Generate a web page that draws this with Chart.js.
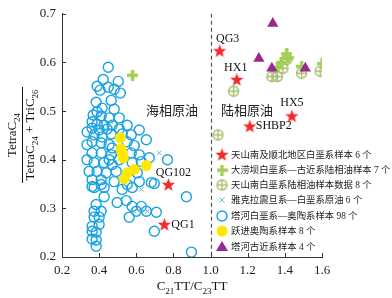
<!DOCTYPE html>
<html><head><meta charset="utf-8">
<script src="https://cdn.jsdelivr.net/npm/chart.js@4"></script>
<style>html,body{margin:0;padding:0;background:#fff}canvas{display:block}</style>
</head><body>
<canvas id="c" width="392" height="298"></canvas>
<script>
// ---- data ----
const xTicks = [0.2, 0.4, 0.6, 0.8, 1.0, 1.2, 1.4, 1.6];
const yTicks = [0.2, 0.3, 0.4, 0.5, 0.6, 0.7];
const boundaryX = 1.0;

const starNames = ['QG3', 'HX1', 'HX5', 'SHBP2', 'QG102', 'QG1'];
const starX = [1.049, 1.141, 1.438, 1.211, 0.773, 0.751];
const starY = [0.624, 0.565, 0.490, 0.469, 0.349, 0.267];

const plusX = [0.58, 1.41, 1.38, 1.49, 1.60, 1.42, 1.36];
const plusY = [0.574, 0.618, 0.600, 0.592, 0.598, 0.610, 0.590];

const oplusX = [1.39, 1.33, 1.36, 1.49, 1.59, 1.124, 1.04, 1.41];
const oplusY = [0.588, 0.571, 0.571, 0.578, 0.582, 0.541, 0.451, 0.606];

const crossX = [0.724, 0.627, 0.627, 0.659, 0.465, 0.589];
const crossY = [0.414, 0.339, 0.294, 0.294, 0.478, 0.294];

const blueX = [0.449,0.422,0.503,0.389,0.449,0.405,0.481,0.514,0.384,0.465,
  0.416,0.481,0.389,0.368,0.411,0.454,0.508,0.362,0.389,0.427,
  0.470,0.362,0.400,0.443,0.373,0.416,0.465,0.524,0.573,0.616,
  0.362,0.411,0.454,0.551,0.589,0.470,0.362,0.411,0.465,0.573,
  0.616,0.670,0.373,0.427,0.470,0.578,0.346,0.389,0.438,0.492,
  0.605,0.362,0.411,0.481,0.616,0.681,0.373,0.427,0.524,0.578,
  0.697,0.427,0.384,0.497,0.578,0.627,0.373,0.411,0.600,0.562,
  0.708,0.768,0.870,0.697,0.897,0.373,0.400,0.362,0.400,0.362,
  0.384,0.362,0.384,0.384,0.411,0.362,0.546,0.627,0.335,0.335,
  0.454,0.508,0.551,0.654,0.335,0.508,0.654,0.551];
const blueY = [0.590,0.565,0.561,0.551,0.549,0.543,0.545,0.537,0.518,0.522,
  0.506,0.504,0.498,0.492,0.490,0.486,0.486,0.478,0.473,0.471,
  0.471,0.465,0.461,0.463,0.451,0.447,0.453,0.453,0.451,0.461,
  0.437,0.435,0.431,0.437,0.429,0.424,0.414,0.414,0.410,0.414,
  0.410,0.404,0.394,0.394,0.390,0.394,0.376,0.376,0.373,0.376,
  0.373,0.359,0.359,0.355,0.355,0.353,0.343,0.343,0.339,0.343,
  0.351,0.324,0.308,0.312,0.304,0.304,0.294,0.294,0.294,0.282,
  0.292,0.400,0.324,0.253,0.210,0.282,0.282,0.263,0.267,0.253,
  0.251,0.237,0.235,0.222,0.349,0.345,0.316,0.396,0.431,0.400,
  0.400,0.400,0.471,0.294,0.457,0.463,0.441,0.349];

const yellowX = [0.514, 0.519, 0.524, 0.530, 0.654, 0.589, 0.551, 0.535];
const yellowY = [0.445, 0.422, 0.414, 0.404, 0.388, 0.380, 0.373, 0.361];

const triX = [1.335, 1.26, 1.33, 1.51];
const triY = [0.680, 0.608, 0.588, 0.588];

const legendLabels = [
  '天山南及顺北地区白垩系样本 6 个',
  '大涝坝白垩系—古近系陆相油样本 7 个',
  '天山南白垩系陆相油样本数据 8 个',
  '雅克拉震旦系—白垩系原油 6 个',
  '塔河白垩系—奥陶系样本 98 个',
  '跃进奥陶系样本 8 个',
  '塔河古近系样本 4 个'
];
const regionLabels = ['海相原油', '陆相原油'];

// ---- symbols ----
const RED = '#f22a2a', BLUE = '#17a2e2', YEL = '#ffe800', PURP = '#9b2790',
      LGREEN = '#a2cf55', OGREEN = '#a3ba6a', XCOL = '#73b3d3';
function mk(w, h, f) { const c = document.createElement('canvas'); c.width = w; c.height = h; f(c.getContext('2d'), w, h); return c; }
function starPath(ctx, cx, cy, R, r) {
  ctx.beginPath();
  for (let i = 0; i < 10; i++) {
    const a = -Math.PI / 2 + i * Math.PI / 5, rr = i % 2 ? r : R;
    ctx.lineTo(cx + rr * Math.cos(a), cy + rr * Math.sin(a));
  }
  ctx.closePath();
}
const starImg = mk(15, 15, (ctx) => { starPath(ctx, 7.5, 8, 7, 2.9); ctx.fillStyle = RED; ctx.fill(); });
const plusImg = mk(11, 11, (ctx) => { ctx.fillStyle = LGREEN; ctx.fillRect(0, 4, 11, 3.4); ctx.fillRect(3.8, 0, 3.4, 11); });
const oplusImg = mk(13, 13, (ctx) => {
  ctx.strokeStyle = OGREEN; ctx.lineWidth = 1.3;
  ctx.beginPath(); ctx.arc(6.5, 6.5, 5, 0, Math.PI * 2); ctx.stroke();
  ctx.beginPath(); ctx.moveTo(1.5, 6.5); ctx.lineTo(11.5, 6.5); ctx.moveTo(6.5, 1.5); ctx.lineTo(6.5, 11.5); ctx.stroke();
});

const pts = (xs, ys) => xs.map((x, i) => ({ x, y: ys[i] }));

const SERIF = '"Liberation Serif", "Times New Roman", serif';
const MIX = '"Liberation Serif", "Noto Sans CJK SC", serif';

function drawRich(ctx, parts, x, y, size, align) {
  const subSize = Math.round(size * 0.68);
  let w = 0;
  parts.forEach(([t, s]) => { ctx.font = (s ? subSize : size) + 'px ' + SERIF; w += ctx.measureText(t).width; });
  let cx = align === 'center' ? x - w / 2 : x;
  ctx.textAlign = 'left'; ctx.textBaseline = 'alphabetic';
  parts.forEach(([t, s]) => {
    ctx.font = (s ? subSize : size) + 'px ' + SERIF;
    ctx.fillText(t, cx, s ? y + size * 0.28 : y);
    cx += ctx.measureText(t).width;
  });
  return w;
}

const overlay = {
  id: 'overlay',
  beforeDatasetsDraw(chart) {
    const { ctx, chartArea: a, scales: { x, y } } = chart;
    ctx.save();
    ctx.strokeStyle = '#555'; ctx.lineWidth = 1.2; ctx.setLineDash([4, 3]);
    const bx = Math.round(x.getPixelForValue(boundaryX)) + 0.5;
    ctx.beginPath(); ctx.moveTo(bx, a.top); ctx.lineTo(bx, a.bottom); ctx.stroke();
    ctx.setLineDash([]);
    ctx.strokeStyle = '#333'; ctx.lineWidth = 1;
    xTicks.forEach(v => { const p = Math.round(x.getPixelForValue(v)) + 0.5; ctx.beginPath(); ctx.moveTo(p, a.bottom); ctx.lineTo(p, a.bottom - 4); ctx.stroke(); });
    yTicks.forEach(v => { const p = Math.round(y.getPixelForValue(v)) + 0.5; ctx.beginPath(); ctx.moveTo(a.left, p); ctx.lineTo(a.left + 4, p); ctx.stroke(); });
    ctx.fillStyle = '#222'; ctx.font = '13px "Noto Sans CJK SC", sans-serif';
    ctx.textAlign = 'center'; ctx.textBaseline = 'middle';
    ctx.fillText(regionLabels[0], 172, 110);
    ctx.fillText(regionLabels[1], 247, 110);
    ctx.restore();
  },
  afterDatasetsDraw(chart) {
    const { ctx, scales: { x, y } } = chart;
    ctx.save();
    ctx.fillStyle = '#111'; ctx.font = '12px ' + SERIF; ctx.textBaseline = 'middle';
    const offs = [[8, -12, 'center'], [-1, -12, 'center'], [0, -13, 'center'], [6, 0, 'left'], [5, -12, 'center'], [7, 0, 'left']];
    starNames.forEach((n, i) => {
      const px = x.getPixelForValue(starX[i]), py = y.getPixelForValue(starY[i]);
      ctx.textAlign = offs[i][2];
      ctx.fillText(n, px + offs[i][0], py + offs[i][1]);
    });
    ctx.fillStyle = '#111';
    drawRich(ctx, [['C', 0], ['21', 1], ['TT/C', 0], ['23', 1], ['TT', 0]], 192, 290, 13, 'center');
    ctx.translate(22, 135); ctx.rotate(-Math.PI / 2);
    ctx.strokeStyle = '#111'; ctx.lineWidth = 1;
    ctx.beginPath(); ctx.moveTo(-48, 0.5); ctx.lineTo(48, 0.5); ctx.stroke();
    drawRich(ctx, [['TetraC', 0], ['24', 1]], 0, -6, 13, 'center');
    drawRich(ctx, [['TetraC', 0], ['24', 1], [' + TriC', 0], ['26', 1]], 0, 12, 13, 'center');
    ctx.restore();
    // legend
    ctx.save();
    const rows = [155, 170, 185, 200, 216, 231, 247];
    const sx = 222, tx = 231;
    ctx.font = '9.4px ' + MIX; ctx.fillStyle = '#222'; ctx.textAlign = 'left'; ctx.textBaseline = 'middle';
    legendLabels.forEach((t, i) => ctx.fillText(t, tx, rows[i] + 0.5));
    ctx.drawImage(starImg, sx - 7.5, rows[0] - 8);
    ctx.drawImage(plusImg, sx - 5.5, rows[1] - 5.5);
    ctx.drawImage(oplusImg, sx - 6.5, rows[2] - 6.5);
    ctx.strokeStyle = XCOL; ctx.lineWidth = 1;
    ctx.beginPath(); ctx.moveTo(sx - 2.5, rows[3] - 2.5); ctx.lineTo(sx + 2.5, rows[3] + 2.5); ctx.moveTo(sx + 2.5, rows[3] - 2.5); ctx.lineTo(sx - 2.5, rows[3] + 2.5); ctx.stroke();
    ctx.strokeStyle = BLUE; ctx.lineWidth = 1.4;
    ctx.beginPath(); ctx.arc(sx, rows[4], 5, 0, Math.PI * 2); ctx.stroke();
    ctx.fillStyle = YEL; ctx.beginPath(); ctx.arc(sx, rows[5], 5.5, 0, Math.PI * 2); ctx.fill();
    ctx.fillStyle = PURP; ctx.beginPath(); ctx.moveTo(sx, rows[6] - 6); ctx.lineTo(sx + 6, rows[6] + 4); ctx.lineTo(sx - 6, rows[6] + 4); ctx.closePath(); ctx.fill();
    ctx.restore();
  }
};

new Chart(document.getElementById('c'), {
  type: 'scatter',
  data: {
    datasets: [
      { label: 'stars', data: pts(starX, starY), pointStyle: starImg, pointRadius: 7 },
      { label: 'tri', data: pts(triX, triY), pointStyle: 'triangle', pointRadius: 6.5, backgroundColor: PURP, borderColor: PURP, borderWidth: 0 },
      { label: 'plus', data: pts(plusX, plusY), pointStyle: plusImg, pointRadius: 5 },
      { label: 'oplus', data: pts(oplusX, oplusY), pointStyle: oplusImg, pointRadius: 6 },
      { label: 'yellow', data: pts(yellowX, yellowY), pointStyle: 'circle', pointRadius: 5.5, backgroundColor: YEL, borderColor: YEL, borderWidth: 0 },
      { label: 'cross', data: pts(crossX, crossY), pointStyle: 'crossRot', pointRadius: 3, borderColor: XCOL, borderWidth: 1 },
      { label: 'blue', data: pts(blueX, blueY), pointStyle: 'circle', pointRadius: 5, backgroundColor: 'rgba(0,0,0,0)', borderColor: BLUE, borderWidth: 1.4 }
    ]
  },
  options: {
    responsive: false, animation: false, events: [],
    layout: { padding: { top: 13, right: 70, left: 0, bottom: 0 } },
    plugins: { legend: { display: false }, tooltip: { enabled: false } },
    scales: {
      x: {
        type: 'linear', min: 0.2, max: 1.6,
        afterBuildTicks: s => { s.ticks = xTicks.map(v => ({ value: v })); },
        afterFit: s => { s.height = 41; },
        grid: { display: false, drawTicks: false },
        border: { display: true, color: '#333', width: 1 },
        ticks: { font: { family: SERIF, size: 13 }, color: '#222', padding: 6, maxRotation: 0, callback: v => v.toFixed(1) }
      },
      y: {
        type: 'linear', min: 0.2, max: 0.7,
        afterBuildTicks: s => { s.ticks = yTicks.map(v => ({ value: v })); },
        afterFit: s => { s.width = 62; },
        grid: { display: false, drawTicks: false },
        border: { display: true, color: '#333', width: 1 },
        ticks: { font: { family: SERIF, size: 13 }, color: '#222', padding: 6, callback: v => v.toFixed(1) }
      }
    }
  },
  plugins: [overlay]
});
</script>
</body></html>
